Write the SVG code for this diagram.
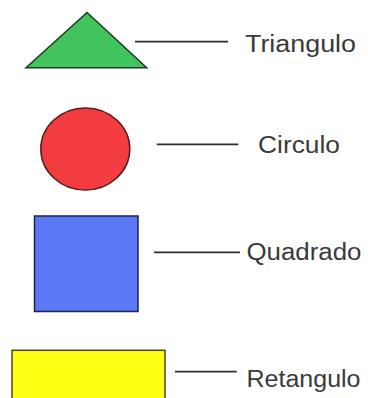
<svg xmlns="http://www.w3.org/2000/svg" width="368" height="398" viewBox="0 0 368 398">
<style>
.lbl{font-family:"Liberation Sans",Arial,sans-serif;font-size:23px;fill:#3a3a3a}
.conn{stroke:#2e2e2e;stroke-width:1.8;fill:none}
.shape{stroke-width:1.5}
</style>
<rect width="368" height="398" fill="#ffffff"/>
<g id="triangulo">
<polygon class="shape" points="87,12.5 26,67.8 146.7,67.8" fill="#41c35e" stroke="#1f3a22"/>
<text class="lbl" x="245" y="52.3" textLength="111" lengthAdjust="spacingAndGlyphs">Triangulo</text>
</g>
<g id="circulo">
<ellipse class="shape" cx="85.3" cy="149" rx="44.5" ry="41" fill="#f23c40" stroke="#5a1c1e"/>
<text class="lbl" x="258" y="153.3" textLength="82" lengthAdjust="spacingAndGlyphs">Circulo</text>
</g>
<g id="quadrado">
<rect class="shape" x="34.5" y="216" width="103.5" height="95.5" fill="#5b79f5" stroke="#1c2346"/>
<text class="lbl" x="246.5" y="260" textLength="115" lengthAdjust="spacingAndGlyphs">Quadrado</text>
</g>
<g id="retangulo">
<rect class="shape" x="12" y="350.3" width="153" height="60" fill="#ffff14" stroke="#4a4524"/>
<text class="lbl" x="246.5" y="386.7" textLength="114" lengthAdjust="spacingAndGlyphs">Retangulo</text>
</g>
<g id="connectors">
<line class="conn" x1="135" y1="41.7" x2="228" y2="41.7"/>
<line class="conn" x1="156.7" y1="144.3" x2="238.3" y2="144.3"/>
<line class="conn" x1="154" y1="252.3" x2="240" y2="252.3"/>
<line class="conn" x1="175" y1="371.7" x2="236.7" y2="371.7"/>
</g>
</svg>
